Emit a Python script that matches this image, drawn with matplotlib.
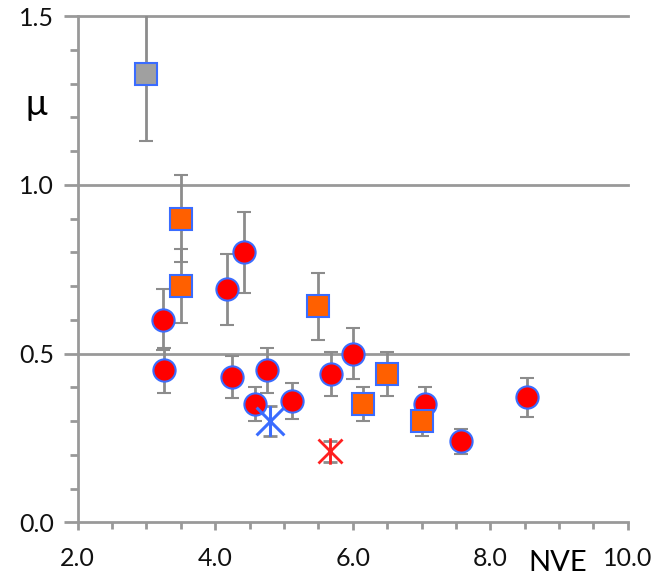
import matplotlib.pyplot as plt
from matplotlib.path import Path
from matplotlib.ticker import MultipleLocator, FixedLocator

# 数据
gray_x = [3.0]
gray_y = [1.33]
gray_err = [0.20]

sq_x = [3.5, 3.5, 5.5, 6.15, 6.5, 7.0]
sq_y = [0.90, 0.70, 0.64, 0.35, 0.44, 0.30]
sq_err = [0.13, 0.11, 0.10, 0.05, 0.065, 0.045]

circ_x = [3.24, 3.26, 4.17, 4.42, 4.25, 4.58, 4.75, 5.11, 5.68, 6.0, 7.05, 7.57, 8.53]
circ_y = [0.60, 0.45, 0.69, 0.80, 0.43, 0.35, 0.45, 0.36, 0.44, 0.50, 0.35, 0.24, 0.37]
circ_err = [0.09, 0.067, 0.105, 0.12, 0.063, 0.05, 0.067, 0.053, 0.065, 0.075, 0.05, 0.037, 0.057]

blue_star_x = [4.8]
blue_star_y = [0.30]
blue_star_err = [0.045]

red_star_x = [5.67]
red_star_y = [0.21]
red_star_err = [0.03]

x_ticks = [2.0, 4.0, 6.0, 8.0, 10.0]
y_ticks = [0.0, 0.5, 1.0, 1.5]

plt.rcParams['font.family'] = ['Lato', 'DejaVu Sans']

fig = plt.figure(figsize=(6.7, 5.79), dpi=100)
ax = fig.add_axes([0.116, 0.098, 0.821, 0.874])

grid_c = '#999999'
err_c = '#8c8c8c'
edge_c = '#3a6cff'

# 星号标记：X 加一条竖线
star = Path([(-1, -1), (1, 1), (-1, 1), (1, -1), (0, -1.1), (0, 1.1)],
            [Path.MOVETO, Path.LINETO, Path.MOVETO, Path.LINETO, Path.MOVETO, Path.LINETO])

# 网格线
for yv in y_ticks[1:]:
    ax.axhline(yv, color=grid_c, lw=2, zorder=1, clip_on=False)

eb = dict(ecolor=err_c, elinewidth=2, capsize=5, capthick=2, linestyle='none', zorder=3)

ax.errorbar(gray_x, gray_y, yerr=gray_err, fmt='s', ms=16, mfc='#a0a0a0', mec=edge_c, mew=1.5, **eb)
ax.errorbar(circ_x, circ_y, yerr=circ_err, fmt='o', ms=16, mfc='#ff0000', mec=edge_c, mew=1.5, **eb)
ax.errorbar(sq_x, sq_y, yerr=sq_err, fmt='s', ms=16, mfc='#ff6000', mec=edge_c, mew=1.5, **eb)
ax.errorbar(blue_star_x, blue_star_y, yerr=blue_star_err, fmt='none', **eb)
ax.plot(blue_star_x, blue_star_y, linestyle='none', marker=star, ms=22, mec='#3a6cff', mew=2.2, zorder=4)
ax.errorbar(red_star_x, red_star_y, yerr=red_star_err, fmt='none', **eb)
ax.plot(red_star_x, red_star_y, linestyle='none', marker=star, ms=19, mec='#ff2020', mew=2, zorder=4)

ax.set_xlim(2.0, 10.0)
ax.set_ylim(0.0, 1.5)

ax.xaxis.set_major_locator(FixedLocator(x_ticks))
ax.xaxis.set_minor_locator(MultipleLocator(0.5))
ax.yaxis.set_major_locator(FixedLocator(y_ticks))
ax.yaxis.set_minor_locator(MultipleLocator(0.1))
ax.set_xticklabels([f'{v:.1f}' for v in x_ticks])
ax.set_yticklabels([f'{v:.1f}' for v in y_ticks])

for s in ['top', 'right']:
    ax.spines[s].set_visible(False)
for s in ['left', 'bottom']:
    ax.spines[s].set_color(grid_c)
    ax.spines[s].set_linewidth(2)

ax.tick_params(axis='y', which='major', length=10, width=2, color=grid_c, labelsize=18, pad=7, labelcolor='#111111')
ax.tick_params(axis='y', which='minor', length=6, width=2, color=grid_c)
ax.tick_params(axis='x', which='major', length=6, width=2, color=grid_c, labelsize=18, pad=12, labelcolor='#111111')
ax.tick_params(axis='x', which='minor', length=5, width=2, color=grid_c)

ax.text(-0.075, 0.826, 'μ', transform=ax.transAxes, fontsize=26, ha='center', va='center')
ax.text(0.872, -0.08, 'NVE', transform=ax.transAxes, fontsize=21, ha='center', va='center')

fig.savefig('out.png', dpi=100)
